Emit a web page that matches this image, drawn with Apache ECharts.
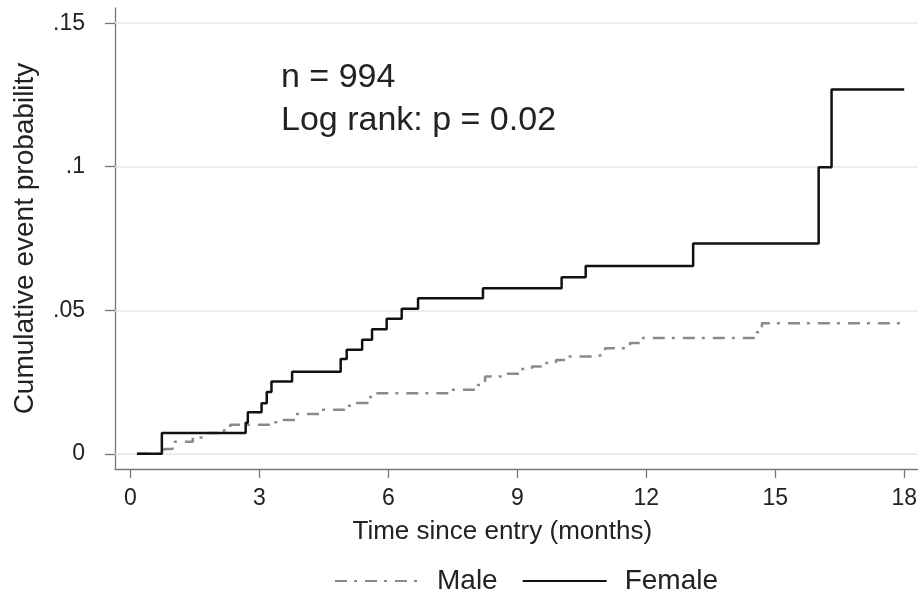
<!DOCTYPE html>
<html>
<head>
<meta charset="utf-8">
<script src="https://cdn.jsdelivr.net/npm/echarts@6/dist/echarts.min.js"></script>
<style>
  html, body { margin: 0; padding: 0; background: #fff; }
  #chart { width: 920px; height: 597px; }
</style>
</head>
<body>
<div id="chart"></div>
<script>
// axis ticks
const xTicks = [0, 3, 6, 9, 12, 15, 18];
const yTicks = [0, 0.05, 0.1, 0.15];
const yTickLabels = ['0', '.05', '.1', '.15'];

// Female: step times (months) and cumulative probability after each step
const femaleTime = [0.15, 0.73, 2.68, 2.73, 3.05, 3.17, 3.28, 3.76, 4.89, 5.03, 5.39, 5.62, 5.96, 6.31, 6.69, 8.2, 10.03, 10.59, 13.09, 16.01, 16.31, 18.0];
const femaleProb = [0, 0.0072, 0.0108, 0.0145, 0.0176, 0.0215, 0.0252, 0.0286, 0.0330, 0.0362, 0.0397, 0.0434, 0.0470, 0.0505, 0.0542, 0.0577, 0.0615, 0.0654, 0.0733, 0.0998, 0.1269, 0.1269];

// Male
const maleTime = [0.15, 0.78, 0.98, 1.45, 1.78, 2.08, 2.32, 3.28, 3.55, 3.83, 4.45, 4.98, 5.18, 5.52, 5.72, 7.43, 8.08, 8.25, 8.71, 9.06, 9.34, 9.64, 9.9, 10.18, 10.8, 11.04, 11.62, 11.89, 14.57, 14.69, 18.0];
const maleProb = [0, 0.0017, 0.0042, 0.0057, 0.0072, 0.0081, 0.0101, 0.011, 0.0118, 0.0139, 0.0153, 0.0167, 0.0177, 0.0198, 0.0211, 0.0223, 0.024, 0.0269, 0.0279, 0.0295, 0.0304, 0.0316, 0.0327, 0.0339, 0.0345, 0.0368, 0.0386, 0.0403, 0.0423, 0.0455, 0.0455];

const annotation = ['n = 994', 'Log rank: p = 0.02'];

const font = '"Liberation Sans", Arial, sans-serif';
const chart = echarts.init(document.getElementById('chart'));

const option = {
    backgroundColor: '#fff',
    animation: false,
    textStyle: { fontFamily: font },
    grid: { left: 115, right: 2, top: 8, bottom: 128 },
    xAxis: {
        type: 'value',
        min: -0.36,
        max: 18.31,
        name: 'Time since entry (months)',
        nameLocation: 'middle',
        nameGap: 50,
        nameTextStyle: { fontSize: 26, color: '#222', padding: [0, 28, 0, 0] },
        axisLine: { show: true, onZero: false, lineStyle: { color: '#777', width: 1.3 } },
        axisTick: { show: true, length: 9, customValues: xTicks, lineStyle: { color: '#777', width: 1.3 } },
        axisLabel: { customValues: xTicks, fontSize: 23, color: '#222', margin: 18 },
        splitLine: { show: false }
    },
    yAxis: {
        type: 'value',
        min: -0.0053,
        max: 0.1553,
        name: 'Cumulative event probability',
        nameLocation: 'middle',
        nameGap: 76,
        nameTextStyle: { fontSize: 28, color: '#222' },
        axisLine: { show: true, onZero: false, lineStyle: { color: '#777', width: 1.3 } },
        axisTick: { show: true, length: 10, customValues: yTicks, lineStyle: { color: '#777', width: 1.3 } },
        axisLabel: {
            customValues: yTicks,
            fontSize: 23,
            color: '#222',
            margin: 30,
            formatter: v => yTickLabels[yTicks.findIndex(t => Math.abs(t - v) < 1e-9)]
        },
        splitLine: { show: false }
    },
    legend: {
        data: ['Male', 'Female'],
        left: 329,
        top: 562,
        itemWidth: 84,
        itemHeight: 14,
        itemGap: 24,
        itemStyle: { opacity: 0 },
        textStyle: { fontSize: 28, color: '#222', padding: [0, 0, 0, 13] }
    },
    graphic: [{
        type: 'text',
        left: 281,
        top: 56,
        style: {
            text: annotation.join('\n'),
            font: '34px ' + font,
            fill: '#222',
            lineHeight: 43
        }
    }],
    series: [
        {
            name: 'Male',
            type: 'line',
            step: 'end',
            symbol: 'none',
            z: 3,
            lineStyle: { color: '#8a8a8a', width: 2.5, type: [12, 7, 3, 8] },
            itemStyle: { color: '#8a8a8a' },
            data: maleTime.map((t, i) => [t, maleProb[i]]),
            markLine: {
                silent: true,
                symbol: 'none',
                z: 1,
                label: { show: false },
                lineStyle: { color: '#e6e6e6', width: 1.5, type: 'solid' },
                data: yTicks.map(v => ({ yAxis: v }))
            }
        },
        {
            name: 'Female',
            type: 'line',
            step: 'end',
            symbol: 'none',
            z: 4,
            lineStyle: { color: '#111', width: 2.5 },
            itemStyle: { color: '#111' },
            data: femaleTime.map((t, i) => [t, femaleProb[i]])
        }
    ]
};

chart.setOption(option);
</script>
</body>
</html>
